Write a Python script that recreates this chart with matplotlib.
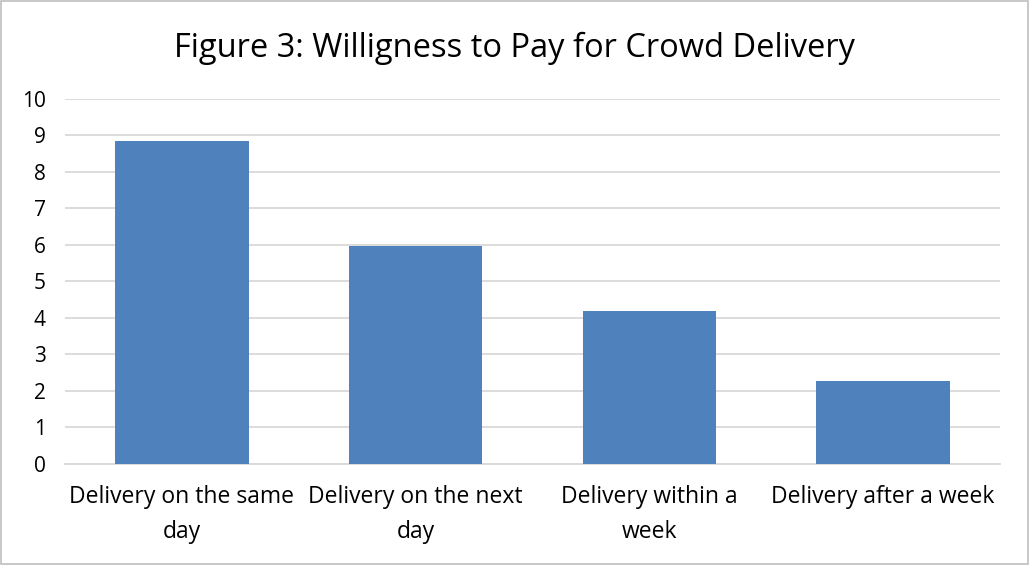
import matplotlib.pyplot as plt
from matplotlib.patches import Rectangle

categories = ["Delivery on the same\nday", "Delivery on the next\nday",
              "Delivery within a\nweek", "Delivery after a week"]
values = [8.86, 5.96, 4.18, 2.27]
yticks = list(range(0, 11))

plt.rcParams['font.family'] = ['Open Sans', 'DejaVu Sans']

fig = plt.figure(figsize=(10.29, 5.65), dpi=100)
ax = fig.add_axes([0.0632, 0.1788, 0.9086, 0.646])

x = range(len(categories))
ax.bar(x, values, width=0.57, color='#4f81bd', zorder=3)

ax.set_xlim(-0.5, len(categories) - 0.5)
ax.set_ylim(0, 10)
ax.set_yticks(yticks)
ax.set_xticks(list(x))
ax.set_xticklabels(categories, fontsize=16.5, color='#000000', linespacing=1.6)
ax.tick_params(axis='y', labelsize=15, length=0, pad=14)
ax.tick_params(axis='x', length=0, pad=15)
ax.grid(axis='y', color='#d9d9d9', linewidth=1.3, zorder=0)
for side in ['top', 'right', 'left']:
    ax.spines[side].set_visible(False)
ax.spines['bottom'].set_color('#d9d9d9')
ax.spines['bottom'].set_linewidth(1.3)

fig.text(0.5, 0.915, "Figure 3: Willigness to Pay for Crowd Delivery",
         ha='center', va='center', fontsize=23.5)

fig.patches.append(Rectangle((0.001, 0.002), 0.998, 0.996, transform=fig.transFigure,
                             fill=False, edgecolor='#bfbfbf', linewidth=1.2))

fig.savefig("out.png", dpi=100)
